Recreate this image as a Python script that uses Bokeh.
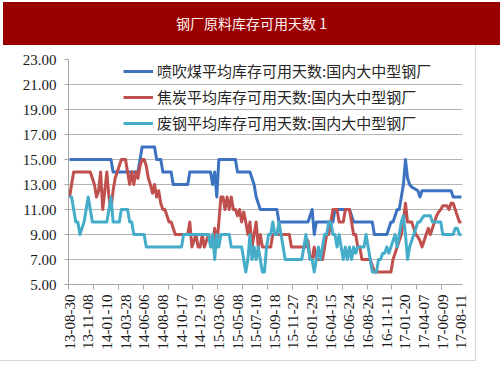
import math
from bokeh.plotting import figure
from bokeh.layouts import column
from bokeh.models import Range1d, FixedTicker, Legend, LegendItem, NumeralTickFormatter, Div
from bokeh.embed import file_html
from bokeh.resources import INLINE

title_text = "钢厂原料库存可用天数 1"
series_names = [
    "喷吹煤平均库存可用天数:国内大中型钢厂",
    "焦炭平均库存可用天数:国内大中型钢厂",
    "废钢平均库存可用天数:国内大中型钢厂",
]
tick_labels = [
    "13-08-30", "13-11-08", "14-01-10", "14-03-28", "14-06-06", "14-08-08",
    "14-10-17", "14-12-19", "15-03-06", "15-05-08", "15-07-10", "15-09-18",
    "15-11-27", "16-01-29", "16-04-15", "16-06-24", "16-08-26", "16-11-11",
    "17-01-20", "17-04-07", "17-06-09", "17-08-11",
]
y_ticks = [5, 7, 9, 11, 13, 15, 17, 19, 21, 23]

coal = [
    15, 15, 15, 15, 15, 15, 15, 15, 15, 15, 15, 15, 15, 15, 15, 15, 15, 15, 15, 15, 15,
    14, 14, 14, 14, 14, 14, 14, 14, 14, 14, 14, 14, 14,
    15, 16, 16, 16, 16, 16, 16, 16, 15, 15, 15,
    14, 14, 14, 14, 14,
    13, 13, 13, 13, 13, 13, 13, 13,
    14, 14, 14, 14, 14, 14, 14, 14, 14, 14, 14,
    13, 14, 12,
    15, 15, 15, 15, 15, 15, 15, 15, 15,
    14, 14, 14, 14, 14, 14, 14,
    13.5, 13, 12, 11.5,
    11, 11, 11, 11, 11, 11, 11, 11, 11,
    10, 10, 10, 10, 10, 10, 10, 10, 10, 10, 10, 10, 10, 10, 10,
    10.5, 11, 9,
    10, 10, 10, 10, 10, 10, 10, 10, 10,
    11, 11, 11, 11, 11, 11, 11, 11,
    10.5,
    10, 10, 10, 10, 10, 10, 10, 10, 10, 10,
    9, 9, 9, 9, 9, 9, 9,
    9.5, 10, 10, 10.5, 11, 11, 12, 13, 15, 13.5, 13, 12.8, 12.7, 12.6, 12.5, 12,
    12.5, 12.5, 12.5, 12.5, 12.5, 12.5, 12.5, 12.5, 12.5, 12.5, 12.5, 12.5, 12.5, 12.5, 12.5,
    12, 12, 12, 12, 12,
]

coke = [
    12, 13,
    14, 14, 14, 14, 14, 14, 14, 14, 14,
    13.5, 13, 12, 12.5, 14, 11, 12.5, 14, 12, 11, 12.5, 13.5, 14, 14.5,
    15, 15, 15,
    14, 13, 14, 13, 14, 13.5, 14.5,
    15, 15,
    14.5, 13.5, 13, 12.3, 13, 12, 12.5, 11.5, 11, 11, 10.5, 10, 10, 9.5,
    9, 9, 9, 9, 9, 9, 9,
    10, 8, 8.5, 9, 8, 8, 9, 8, 8.5, 9, 8.5, 8, 9.5, 8, 10, 12, 12, 11, 12, 11, 12, 11, 11,
    10.5, 11, 10, 10.8, 10, 9, 10, 8, 9, 10, 8, 9,
    8, 8, 8, 8, 8,
    9, 9, 9, 9, 9, 9, 9, 9, 9,
    8, 8, 8, 8, 8, 8, 8, 8,
    8.5, 7, 7, 8,
    7, 7, 7, 7,
    8, 9, 9, 10,
    11, 11, 11,
    10, 10, 10,
    11, 11, 11,
    10, 9, 9, 8, 8,
    7, 7, 7, 7, 7,
    6.5,
    6, 6, 6, 6, 6, 6, 6, 6, 6,
    7, 7.5, 8, 8.5, 9, 10, 11.5, 10, 10, 10, 9.5, 9, 8.8, 8.5, 8, 8.5, 9, 9.5, 9, 9.5,
    10, 10.5, 10.8, 11, 11.3, 11.3, 11.3, 11, 11.5, 11.5, 11, 10.5, 10, 10,
]

scrap = [
    12, 12, 11, 10, 10, 9, 9.5, 10, 11, 12, 11,
    10, 10, 10, 10, 10, 10, 10, 10,
    11, 12,
    10, 10, 10, 10,
    11, 11, 11, 11,
    10, 10,
    9, 9, 9, 9, 9, 9,
    8, 8, 8, 8, 8, 8, 8, 8, 8, 8, 8, 8, 8, 8, 8, 8, 8, 8,
    9, 9, 9, 9, 9, 9, 9, 9, 9, 9, 9, 9, 9,
    8, 9, 7, 9, 8,
    9, 9, 9, 9, 9,
    8, 8, 8, 8, 8, 8,
    7, 6, 7, 9, 7, 8, 7, 8, 7,
    6, 6,
    8, 9, 9, 10, 9, 9, 10, 9, 8,
    7, 7, 7, 7, 7, 7, 7, 7, 7,
    8, 9, 8, 7, 7, 6, 7, 8, 7, 8, 9, 9, 10, 10, 9, 9, 8, 9, 8, 7, 8, 7, 8, 7, 8, 7.5,
    8, 8, 8, 8, 9, 8, 7,
    6, 6, 6,
    7, 7, 7.5, 7.5, 8, 7.5, 8, 8.5, 9, 8, 9, 10, 10.5, 9, 7, 8, 8.5, 9, 9.5, 10, 10,
    10.3, 10.5, 10.5, 10.5, 10.5,
    10, 10, 10, 10, 10,
    9, 9, 9, 9, 9, 9,
    9.5, 9.5, 9, 9,
]

series = [coal, coke, scrap]
colors = ["#3D72C0", "#C0504D", "#45ADC9"]

N = len(coal)
xs = list(range(N))
label_step = 9
tick_step = 12

# title band (HTML div)
title = Div(text=title_text, width=497, height=43, margin=(2, 0, 0, 3),
            styles={"background-color": "#9A0000", "color": "#FFF2F2",
                    "font-family": "'Noto Sans CJK SC'", "font-size": "14px",
                    "text-align": "center", "line-height": "43px",
                    "display": "block", "overflow": "hidden"})

PW = 476
PH = 316
p = figure(width=PW, height=PH, x_range=Range1d(-0.5, N - 0.5), y_range=Range1d(5, 23),
           toolbar_location=None, output_backend="svg",
           min_border_left=68, min_border_right=PW - 462, min_border_top=14,
           min_border_bottom=PH - 239)
p.outline_line_color = None
p.background_fill_color = "white"
p.styles = {"border-right": "1px solid #D9D9D9", "border-bottom": "1px solid #D9D9D9",
            "box-sizing": "border-box"}

label_pos = [i * label_step for i in range(len(tick_labels))]
minor_pos = [-0.5 + k * tick_step for k in range(0, (N // tick_step) + 1)]
p.xaxis.ticker = FixedTicker(ticks=label_pos, minor_ticks=minor_pos)
p.xaxis.major_label_overrides = {pos: lab for pos, lab in zip(label_pos, tick_labels)}
p.xaxis.major_label_orientation = math.pi / 2
p.xaxis.major_tick_line_color = None
p.xaxis.major_tick_out = 5
p.xaxis.major_tick_in = 0
p.xaxis.minor_tick_out = 5
p.xaxis.minor_tick_in = 0
p.xaxis.minor_tick_line_color = "#A6A6A6"
p.xaxis.axis_line_color = "#A6A6A6"
p.xaxis.major_label_standoff = 5
p.xaxis.major_label_text_font = "Liberation Serif"
p.xaxis.major_label_text_font_size = "15px"
p.xaxis.major_label_text_color = "#1A1A1A"

p.yaxis.ticker = FixedTicker(ticks=y_ticks)
p.yaxis.formatter = NumeralTickFormatter(format="0.00")
p.yaxis.axis_line_color = "#A6A6A6"
p.yaxis.major_tick_line_color = "#A6A6A6"
p.yaxis.major_tick_out = 4
p.yaxis.major_tick_in = 0
p.yaxis.minor_tick_line_color = None
p.yaxis.major_label_standoff = 8
p.yaxis.major_label_text_font = "Liberation Serif"
p.yaxis.major_label_text_font_size = "15px"
p.yaxis.major_label_text_color = "#1A1A1A"

p.xgrid.visible = False
p.ygrid.ticker = FixedTicker(ticks=y_ticks)
p.ygrid.grid_line_color = "#B4B4B4"
p.ygrid.grid_line_width = 1

items = []
for name, vals, col in zip(series_names, series, colors):
    r = p.line(xs, vals, line_color=col, line_width=3, line_join="round")
    items.append(LegendItem(label=name, renderers=[r]))

legend = Legend(items=items, location=(55, 151), orientation="vertical",
                margin=0, padding=0, spacing=5, glyph_width=30, glyph_height=20,
                label_height=20, label_standoff=4,
                label_text_font="Noto Sans CJK SC", label_text_font_size="15px",
                label_text_color="#262626",
                background_fill_alpha=0, border_line_alpha=0)
p.add_layout(legend)

layout = column(title, p, spacing=0)
open("out.html", "w").write(file_html(layout, INLINE))
